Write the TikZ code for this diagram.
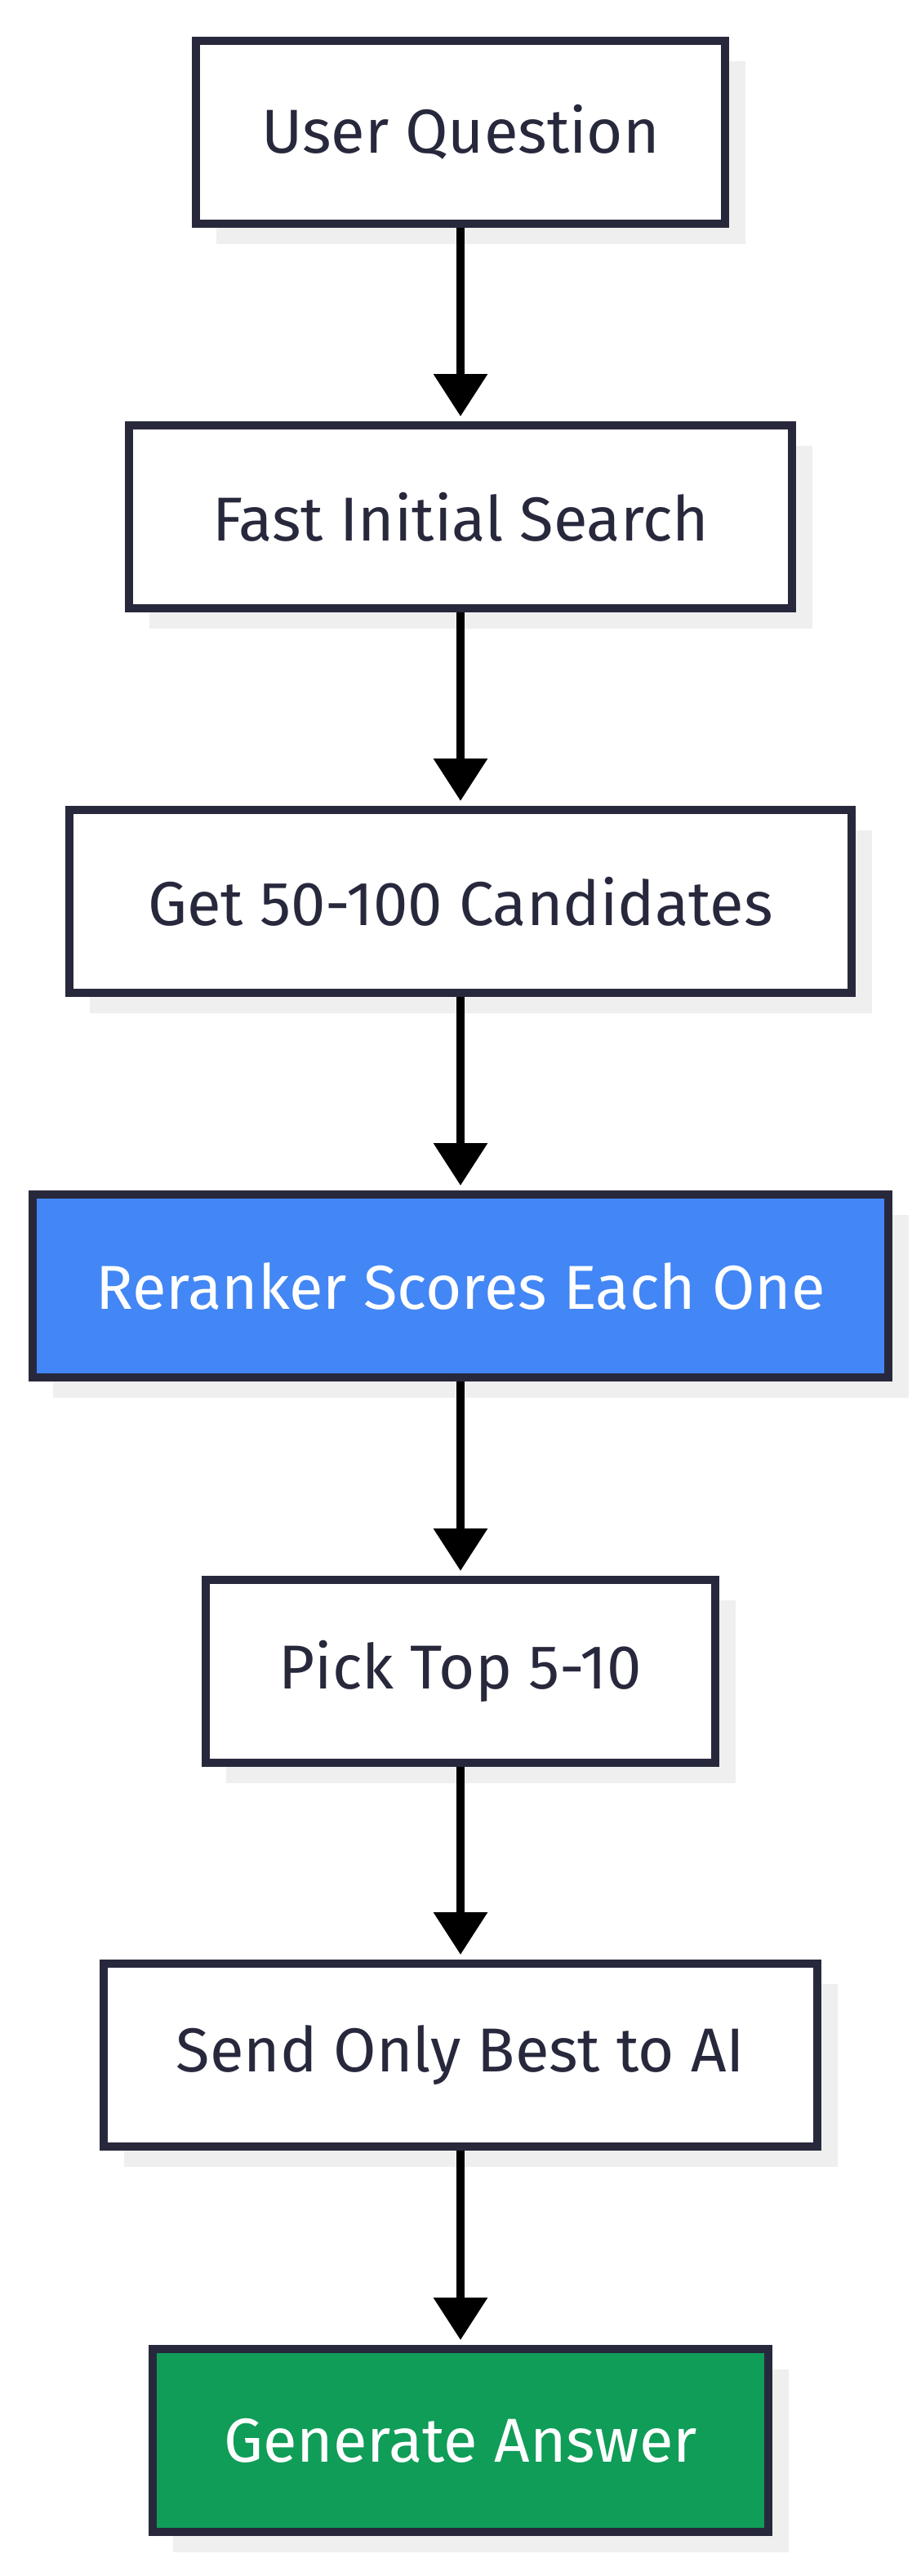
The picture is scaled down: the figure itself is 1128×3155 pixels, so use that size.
\documentclass[tikz,border=0pt]{standalone}
\usepackage{fontspec}
\setmainfont{Fira Sans}
\usetikzlibrary{arrows.meta,shadows}
\definecolor{ink}{HTML}{28283D}
\definecolor{shade}{HTML}{EFEFEF}
\definecolor{blueF}{HTML}{4386F5}
\definecolor{greenF}{HTML}{0F9D58}
\tikzset{
  box/.style={draw=ink, line width=5pt, fill=white, text=ink,
    minimum height=112pt, inner sep=0pt,
    font=\fontsize{38}{45}\selectfont,
    drop shadow={shadow xshift=12.5pt, shadow yshift=-12.5pt, opacity=1, fill=shade}},
  conn/.style={line width=5pt, draw=black, -{Triangle[width=32pt,length=26pt]}, shorten >=3pt}
}
\begin{document}
\begin{tikzpicture}[x=0.5pt,y=-0.5pt]
\useasboundingbox (0,0) rectangle (1128,3155);
\node[box, minimum width=324pt] (n1) at (564,162) {User Question};
\node[box, minimum width=406pt] (n2) at (564,633) {Fast Initial Search};
\node[box, minimum width=479pt] (n3) at (564,1104) {Get 50-100 Candidates};
\node[box, minimum width=524pt, fill=blueF, text=white] (n4) at (564,1575) {Reranker Scores Each One};
\node[box, minimum width=312pt] (n5) at (564,2047) {Pick Top 5-10};
\node[box, minimum width=437pt] (n6) at (564,2517) {Send Only Best to AI};
\node[box, minimum width=377pt, fill=greenF, text=white] (n7) at (564,2989) {Generate Answer};
\draw[conn] (n1) -- (n2);
\draw[conn] (n2) -- (n3);
\draw[conn] (n3) -- (n4);
\draw[conn] (n4) -- (n5);
\draw[conn] (n5) -- (n6);
\draw[conn] (n6) -- (n7);
\end{tikzpicture}
\end{document}
